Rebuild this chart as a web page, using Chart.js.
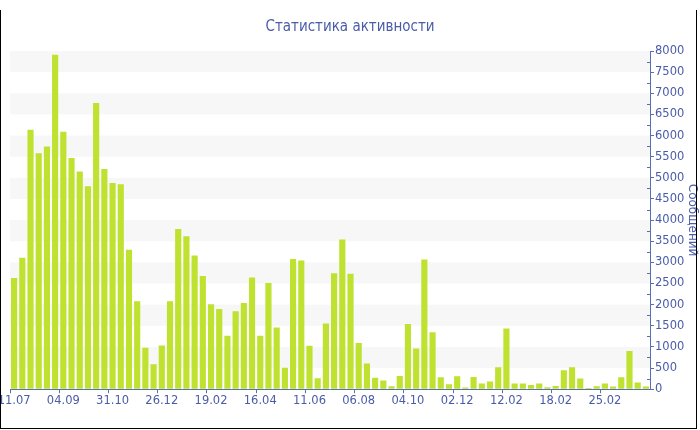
<!DOCTYPE html>
<html>
<head>
<meta charset="utf-8">
<script src="https://cdn.jsdelivr.net/npm/chart.js@4/dist/chart.umd.min.js"></script>
<style>
  body { margin: 0; background: #fff; }
  #wrap { position: relative; width: 700px; height: 430px; }
  #frame { position: absolute; left: 0; top: 10px; width: 695px; height: 418px;
           border-left: 1px solid #000; border-bottom: 1px solid #000; border-right: 1px solid #000; pointer-events: none; }
</style>
</head>
<body>
<div id="wrap">
  <canvas id="chart" width="700" height="430"></canvas>
  <div id="frame"></div>
</div>
<script>
// данные
const tickLabels = ['11.07', '04.09', '31.10', '26.12', '19.02', '16.04', '11.06',
                    '06.08', '04.10', '02.12', '12.02', '18.02', '25.02'];
const messages = [
  2630, 3110, 6140, 5580, 5740, 7910, 6090, 5470, 5150, 4800,
  6770, 5210, 4880, 4850, 3300, 2080, 980, 590, 1035, 2080,
  3790, 3620, 3160, 2675, 2010, 1900, 1265, 1845, 2040, 2645,
  1265, 2510, 1460, 510, 3080, 3045, 1030, 260, 1555, 2740,
  3540, 2730, 1090, 605, 268, 205, 70, 315, 1545, 960,
  3070, 1345, 282, 118, 306, 40, 290, 133, 180, 518,
  1435, 133, 133, 102, 133, 47, 78, 447, 518, 251,
  31, 71, 133, 63, 282, 902, 157, 63
];
const labelStep = 6;
const categories = messages.map((v, i) => i % labelStep === 0 ? tickLabels[i / labelStep] : '');

const blue = '#4a5ca8';
const axisBlue = '#5a6eb2';
const barColor = '#bfe12f';

// серые полосы + мелкие засечки
const bandsPlugin = {
    id: 'bands',
    beforeDatasetsDraw(chart) {
        const {ctx, chartArea} = chart;
        const y = chart.scales.y;
        ctx.save();
        ctx.fillStyle = '#f7f7f7';
        for (let v = 500; v < y.max; v += 1000) {
            const top = y.getPixelForValue(v + 500);
            const bot = y.getPixelForValue(v);
            ctx.fillRect(chartArea.left, top, chartArea.right - chartArea.left, bot - top);
        }
        ctx.restore();
    },
    afterDraw(chart) {
        const {ctx, chartArea} = chart;
        const y = chart.scales.y;
        ctx.save();
        ctx.strokeStyle = axisBlue;
        ctx.lineWidth = 1;
        for (let v = 250; v < y.max; v += 500) {
            const py = Math.round(y.getPixelForValue(v)) + 0.5;
            ctx.beginPath();
            ctx.moveTo(chartArea.right - 3, py);
            ctx.lineTo(chartArea.right, py);
            ctx.stroke();
        }
        ctx.restore();
    }
};

const chart = new Chart(document.getElementById('chart').getContext('2d'), {
    type: 'bar',
    data: {
        labels: categories,
        datasets: [{
            label: 'Сообщений',
            data: messages,
            backgroundColor: barColor,
            borderWidth: 0,
            categoryPercentage: 1,
            barPercentage: 0.75
        }]
    },
    options: {
        responsive: false,
        animation: false,
        layout: { padding: { top: 2, left: 0, right: 0, bottom: 21 } },
        plugins: {
            legend: { display: false },
            tooltip: { enabled: false },
            title: {
                display: true,
                text: 'Статистика активности',
                color: blue,
                font: { family: '"DejaVu Sans Condensed", "DejaVu Sans"', size: 15, weight: 'normal' },
                padding: { top: 16, bottom: 15 }
            }
        },
        scales: {
            x: {
                afterFit: (scale) => { scale.paddingLeft = 10; },
                border: { color: axisBlue, width: 1 },
                grid: {
                    drawOnChartArea: false,
                    tickLength: 4,
                    tickColor: (c) => c.index % labelStep === 0 ? axisBlue : 'rgba(0,0,0,0)'
                },
                ticks: {
                    autoSkip: false,
                    maxRotation: 0,
                    padding: 1,
                    color: blue,
                    font: { family: 'DejaVu Sans', size: 11.5 }
                }
            },
            y: {
                position: 'right',
                min: 0,
                max: 8000,
                afterFit: (scale) => { scale.width = 50; },
                border: { color: axisBlue, width: 1 },
                grid: { drawOnChartArea: false, tickLength: 4, tickColor: axisBlue },
                ticks: {
                    stepSize: 500,
                    autoSkip: false,
                    padding: 1,
                    color: blue,
                    font: { family: 'DejaVu Sans', size: 11.5 },
                    callback: (v) => String(v)
                },
                title: {
                    display: true,
                    text: 'Сообщений',
                    color: blue,
                    font: { family: 'DejaVu Sans', size: 12 },
                    padding: { top: 1, bottom: 1 }
                }
            }
        }
    },
    plugins: [bandsPlugin]
});
</script>
</body>
</html>
